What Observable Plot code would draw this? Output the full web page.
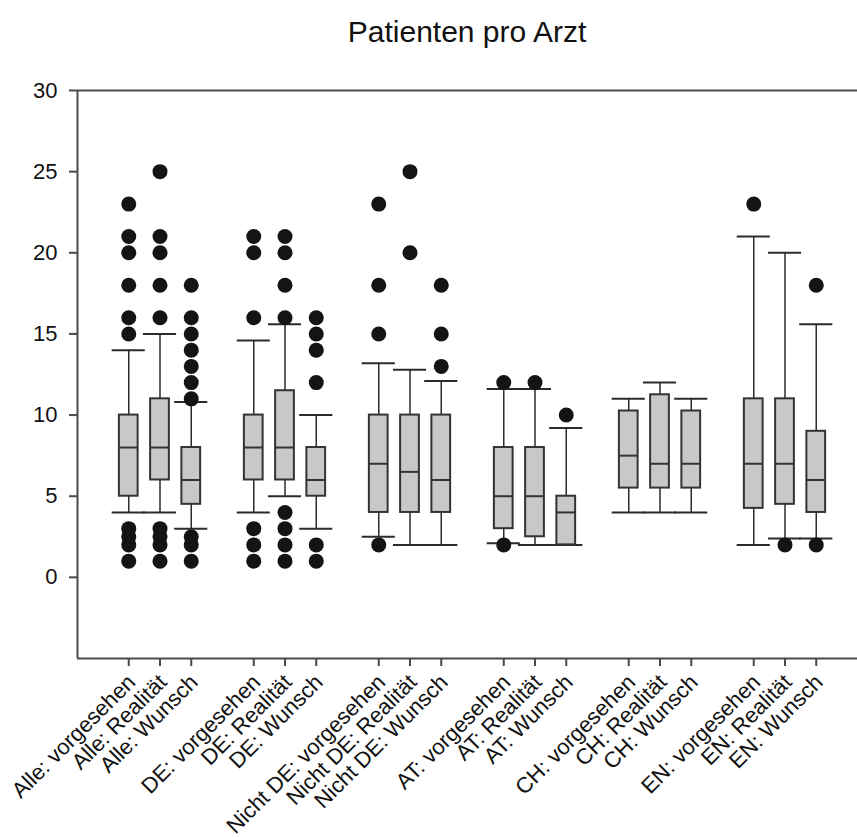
<!DOCTYPE html>
<html><head><meta charset="utf-8">
<script src="https://cdn.jsdelivr.net/npm/d3@7"></script>
<script src="https://cdn.jsdelivr.net/npm/@observablehq/plot@0.6"></script>
<style>
body{margin:0;background:#fff;font-family:Arial,"Liberation Sans",sans-serif;}
#title{height:70px;width:857px;box-sizing:border-box;padding-left:77px;padding-top:17px;text-align:center;font-size:30px;line-height:1;color:#111;}
#chart svg{display:block;}
</style></head><body>
<div id="title">Patienten pro Arzt</div>
<div id="chart"></div>
<script>
const labels = [
  "Alle: vorgesehen","Alle: Realität","Alle: Wunsch",
  "DE: vorgesehen","DE: Realität","DE: Wunsch",
  "Nicht DE: vorgesehen","Nicht DE: Realität","Nicht DE: Wunsch",
  "AT: vorgesehen","AT: Realität","AT: Wunsch",
  "CH: vorgesehen","CH: Realität","CH: Wunsch",
  "EN: vorgesehen","EN: Realität","EN: Wunsch"
];
const lowerWhisker = [4, 4, 3,   4, 5, 3,   2.5, 2, 2,   2.1, 2, 2,   4, 4, 4,   2, 2.4, 2.4];
const q1           = [5, 6, 4.5, 6, 6, 5,   4, 4, 4,     3, 2.5, 2,   5.5, 5.5, 5.5, 4.25, 4.5, 4];
const median       = [8, 8, 6,   8, 8, 6,   7, 6.5, 6,   5, 5, 4,     7.5, 7, 7,   7, 7, 6];
const q3           = [10, 11, 8, 10, 11.5, 8, 10, 10, 10, 8, 8, 5,    10.25, 11.25, 10.25, 11, 11, 9];
const upperWhisker = [14, 15, 10.8, 14.6, 15.6, 10, 13.2, 12.8, 12.1, 11.6, 11.6, 9.2, 11, 12, 11, 21, 20, 15.6];
const outliers = [
  [23, 21, 20, 18, 16, 15, 3, 2.5, 2, 1],
  [25, 21, 20, 18, 16, 3, 2.5, 2, 1],
  [18, 16, 15, 14, 13, 12, 11, 2.5, 2, 1],
  [21, 20, 16, 3, 2, 1],
  [21, 20, 18, 16, 4, 3, 2, 1],
  [16, 15, 14, 12, 2, 1],
  [23, 18, 15, 2],
  [25, 20],
  [18, 15, 13],
  [12, 2],
  [12],
  [10],
  [],
  [],
  [],
  [23],
  [2],
  [18, 2]
];
const yTicks = [0, 5, 10, 15, 20, 25, 30];

// layout: three boxes per group, one empty slot between groups
const slot = i => Math.floor(i / 3) * 4 + (i % 3);
const boxes = labels.map((label, i) => ({
  label, pos: slot(i), lo: lowerWhisker[i], q1: q1[i], med: median[i], q3: q3[i], hi: upperWhisker[i]
}));
const pts = labels.flatMap((label, i) => outliers[i].map(v => ({pos: slot(i), v})));
const positions = boxes.map(d => d.pos);

const xDomain = [-1.64, 23.32];
const yDomain = [-5, 30];
const boxHalf = 0.3, capHalf = 0.53;
const lineColor = "#2b2b2b";
const axisColor = "#4a4a4a";

const chart = Plot.plot({
  width: 857, height: 767,
  marginTop: 20, marginBottom: 179, marginLeft: 77, marginRight: 0,
  style: {fontFamily: "Arial, 'Liberation Sans', sans-serif", fontSize: "22px", color: "#111", background: "#fff"},
  x: {type: "linear", domain: xDomain, axis: null},
  y: {domain: yDomain, axis: null},
  marks: [
    Plot.ruleX(boxes, {x: "pos", y1: "lo", y2: "q1", stroke: lineColor, strokeWidth: 1.5}),
    Plot.ruleX(boxes, {x: "pos", y1: "q3", y2: "hi", stroke: lineColor, strokeWidth: 1.5}),
    Plot.ruleY(boxes, {y: "lo", x1: d => d.pos - capHalf, x2: d => d.pos + capHalf, stroke: lineColor, strokeWidth: 2}),
    Plot.ruleY(boxes, {y: "hi", x1: d => d.pos - capHalf, x2: d => d.pos + capHalf, stroke: lineColor, strokeWidth: 2}),
    Plot.rect(boxes, {x1: d => d.pos - boxHalf, x2: d => d.pos + boxHalf, y1: "q1", y2: "q3", fill: "#c8c8c8", stroke: "#333", strokeWidth: 2}),
    Plot.ruleY(boxes, {y: "med", x1: d => d.pos - boxHalf, x2: d => d.pos + boxHalf, stroke: "#333", strokeWidth: 2}),
    Plot.dot(pts, {x: "pos", y: "v", r: 7.5, fill: "#141414", stroke: "none"}),
    // frame lines (left, top, bottom)
    Plot.ruleX([xDomain[0]], {stroke: axisColor, strokeWidth: 2}),
    Plot.ruleY([yDomain[1]], {stroke: axisColor, strokeWidth: 2}),
    Plot.ruleY([yDomain[0]], {stroke: axisColor, strokeWidth: 2}),
    Plot.axisY({ticks: yTicks, tickSize: 8, tickPadding: 12, fontSize: 22, stroke: axisColor, strokeWidth: 2, label: null}),
    Plot.axisX({ticks: positions, tickSize: 8, tickFormat: () => "", stroke: axisColor, strokeWidth: 2, label: null}),
    Plot.text(boxes, {x: "pos", text: "label", frameAnchor: "bottom", rotate: -45, textAnchor: "end", lineAnchor: "middle", dx: 3, dy: 20, fontSize: 22, fill: "#111"})
  ]
});
document.getElementById("chart").appendChild(chart);
</script>
</body></html>
